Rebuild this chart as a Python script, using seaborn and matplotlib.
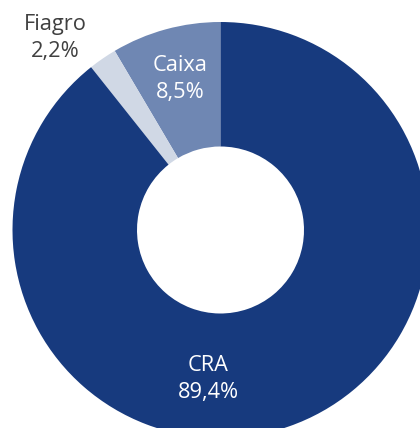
import numpy as np
import seaborn as sns
import matplotlib.pyplot as plt

sns.set_theme(style="white")
plt.rcParams['font.family'] = ['Open Sans', 'DejaVu Sans']

labels = ['Caixa', 'Fiagro', 'CRA']
shares = [8.5, 2.2, 89.4]
colors = ['#6F87B3', '#D0D8E5', '#173A7E']
text_colors = ['white', '#404040', 'white']
# label centres in pixel coords of the figure
label_pos = [(180, 79), (55, 38), (208, 379)]

fig = plt.figure(figsize=(4.2, 4.28), dpi=100)
ax = fig.add_axes([0, 0, 1, 1])

# y axis is inverted below, so counterclock=False draws counter-clockwise on screen
ax.pie(shares, colors=colors, startangle=-90, counterclock=False,
       center=(220.5, 230), radius=208,
       wedgeprops=dict(width=208 - 83.5, linewidth=0), frame=True)
ax.set_xlim(0, 420)
ax.set_ylim(428, 0)
ax.set_aspect('equal')
ax.axis('off')

for lab, val, c, (x, y) in zip(labels, shares, text_colors, label_pos):
    txt = f"{lab}\n{val:.1f}%".replace('.', ',')
    ax.text(x, y, txt, ha='center', va='center', color=c,
            fontsize=15.7, linespacing=1.42)

fig.savefig('out.png', dpi=100)
